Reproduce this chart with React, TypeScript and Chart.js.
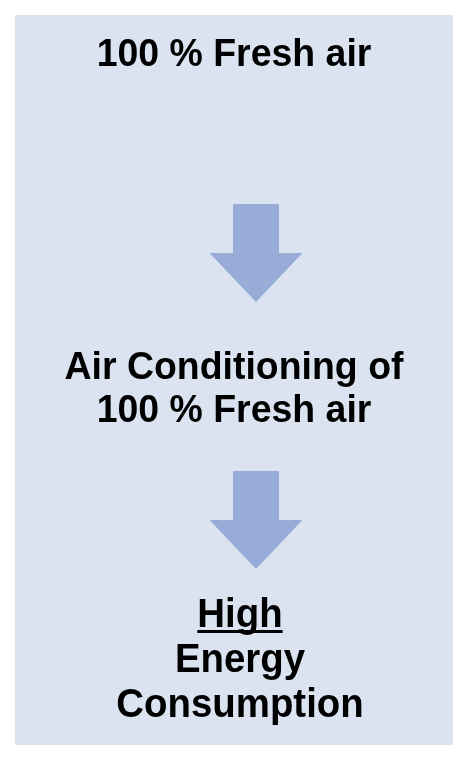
import React, { useEffect, useRef } from "react";
import { Chart, registerables } from "chart.js";

Chart.register(...registerables);

// Diagram content
const stepLabels: string[][] = [
  ["100 % Fresh air"],
  ["Air Conditioning of", "100 % Fresh air"],
  ["High", "Energy", "Consumption"],
];
const underlined: string[] = ["High"];
const arrowCount = 2;

const W = 468;
const H = 761;
const BG = "#dce3f0";
const ARROW = "#97acd6";
const HSCALE = 0.96;

export default function App() {
  const ref = useRef<HTMLCanvasElement | null>(null);

  useEffect(() => {
    const canvas = ref.current;
    if (!canvas) return;

    const diagramPlugin = {
      id: "diagram",
      beforeDraw(chart: any) {
        const { ctx, scales } = chart;
        const x = scales.x;
        const y = scales.y;
        ctx.save();
        ctx.fillStyle = "#ffffff";
        ctx.fillRect(0, 0, W, H);
        ctx.fillStyle = BG;
        const x0 = x.getPixelForValue(15);
        const x1 = x.getPixelForValue(453);
        const y0 = y.getPixelForValue(15);
        const y1 = y.getPixelForValue(745);
        ctx.fillRect(x0, y0, x1 - x0, y1 - y0);
        ctx.restore();
      },
      afterDraw(chart: any) {
        const { ctx, scales } = chart;
        const sx = scales.x;
        const sy = scales.y;
        ctx.save();
        ctx.fillStyle = "#000000";
        ctx.textAlign = "center";
        ctx.textBaseline = "alphabetic";

        const blockCx = [234, 234, 240];
        const blockFont = [39, 39, 40];
        const blockBaselines = [66, 379, 627];
        const lineHeights = [43, 43, 45];
        stepLabels.forEach((lines, bi) => {
          ctx.font = `bold ${blockFont[bi]}px 'Liberation Sans', Arial, sans-serif`;
          lines.forEach((line, li) => {
            const px = sx.getPixelForValue(blockCx[bi]);
            const py = sy.getPixelForValue(blockBaselines[bi] + li * lineHeights[bi]);
            ctx.save();
            ctx.translate(px, py);
            ctx.scale(HSCALE, 1);
            ctx.fillText(line, 0, 0);
            if (underlined.includes(line)) {
              const w = ctx.measureText(line).width;
              ctx.fillRect(-w / 2, 3, w, 3);
            }
            ctx.restore();
          });
        });

        // arrows
        const arrowTops = [204, 471];
        const arrowCx = 256;
        for (let i = 0; i < arrowCount; i++) {
          const top = arrowTops[i];
          const shaftHalf = 23;
          const headHalf = 46.5;
          const headTop = top + 49;
          const tip = top + 98;
          ctx.fillStyle = ARROW;
          ctx.beginPath();
          ctx.moveTo(sx.getPixelForValue(arrowCx - shaftHalf), sy.getPixelForValue(top));
          ctx.lineTo(sx.getPixelForValue(arrowCx + shaftHalf), sy.getPixelForValue(top));
          ctx.lineTo(sx.getPixelForValue(arrowCx + shaftHalf), sy.getPixelForValue(headTop));
          ctx.lineTo(sx.getPixelForValue(arrowCx + headHalf), sy.getPixelForValue(headTop));
          ctx.lineTo(sx.getPixelForValue(arrowCx), sy.getPixelForValue(tip));
          ctx.lineTo(sx.getPixelForValue(arrowCx - headHalf), sy.getPixelForValue(headTop));
          ctx.lineTo(sx.getPixelForValue(arrowCx - shaftHalf), sy.getPixelForValue(headTop));
          ctx.closePath();
          ctx.fill();
        }
        ctx.restore();
      },
    };

    const chart = new Chart(canvas, {
      type: "scatter",
      data: { datasets: [{ data: [], pointRadius: 0 }] },
      options: {
        animation: false,
        responsive: false,
        devicePixelRatio: 1,
        layout: { padding: 0 },
        plugins: { legend: { display: false }, tooltip: { enabled: false } },
        scales: {
          x: { type: "linear", min: 0, max: W, display: false },
          y: { type: "linear", min: 0, max: H, reverse: true, display: false },
        },
      },
      plugins: [diagramPlugin],
    });
    return () => chart.destroy();
  }, []);

  return (
    <canvas
      ref={ref}
      width={W}
      height={H}
      style={{ position: "absolute", left: 0, top: 0, width: W, height: H }}
    />
  );
}
